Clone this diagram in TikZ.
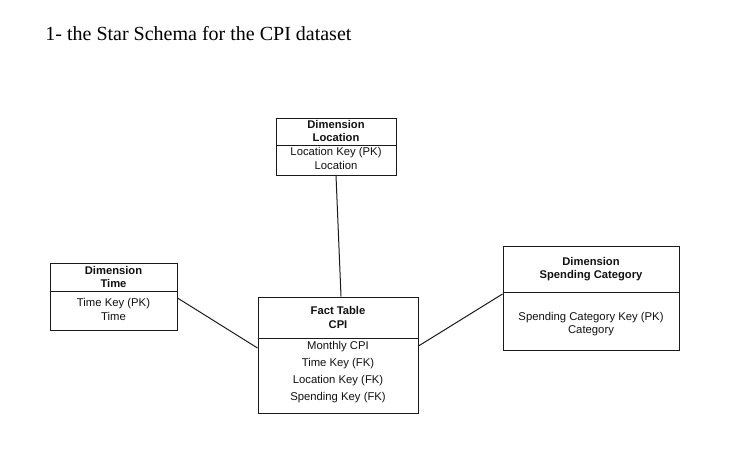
\documentclass[tikz,border=0pt]{standalone}
\usepackage{fontspec}
\setmainfont{Liberation Serif}
\setsansfont{Liberation Sans}
\usepackage{tikz}
\definecolor{cline}{HTML}{1A1A1A}
\definecolor{ctext}{HTML}{111111}

\begin{document}
\begin{tikzpicture}[x=0.5pt,y=-0.5pt,
  tbl/.style={draw=cline,line width=0.5pt,rectangle,inner sep=0pt},
  head/.style={font=\sffamily\bfseries\fontsize{5.6}{6.8}\selectfont,text=ctext,align=center,inner sep=0pt},
  body/.style={font=\sffamily\fontsize{5.65}{6.8}\selectfont,text=ctext,align=center,inner sep=0pt},
  link/.style={draw=cline,line width=0.5pt}]
  \useasboundingbox[fill=white] (0,0) rectangle (742,460);
  \node[anchor=west,inner sep=0pt,font=\fontsize{10}{12}\selectfont] (title) at (45,34) {1- the Star Schema for the CPI dataset};
  % tables
  \node[tbl,minimum width=60pt,minimum height=28.5pt] (loc) at (336,146.5) {};
  \node[tbl,minimum width=63.5pt,minimum height=33.5pt] (time) at (113.5,296.5) {};
  \node[tbl,minimum width=80pt,minimum height=58pt] (fact) at (338,355) {};
  \node[tbl,minimum width=88pt,minimum height=52pt] (spend) at (591,298) {};
  \draw[link] (loc.west |- 0,145) -- (loc.east |- 0,145);
  \draw[link] (time.west |- 0,291) -- (time.east |- 0,291);
  \draw[link] (fact.west |- 0,338) -- (fact.east |- 0,338);
  \draw[link] (spend.west |- 0,292) -- (spend.east |- 0,292);
  % texts
  \node[head] (lochead) at (336,131) {Dimension\\Location};
  \node[body] (locbody) at (336,158.5) {Location Key (PK)\\Location};
  \node[head] (timehead) at (113.5,277) {Dimension\\Time};
  \node[body] (timebody) at (113.5,309.5) {Time Key (PK)\\Time};
  \node[head] (facthead) at (338,317.5) {Fact Table\\CPI};
  \node[body,font=\sffamily\fontsize{5.65}{8.5}\selectfont] (factbody) at (338,372) {Monthly CPI\\Time Key (FK)\\Location Key (FK)\\Spending Key (FK)};
  \node[head] (spendhead) at (591,269) {Dimension\\Spending Category};
  \node[body] (spendbody) at (591,324) {Spending Category Key (PK)\\Category};
  % links
  \draw[link] (loc.south) -- ([xshift=1.5pt]fact.north);
  \draw[link] ([yshift=-0.75pt]time.east) -- ([yshift=3.5pt]fact.west);
  \draw[link] ([yshift=4.5pt]fact.east) -- ([yshift=2pt]spend.west);
\end{tikzpicture}
\end{document}
